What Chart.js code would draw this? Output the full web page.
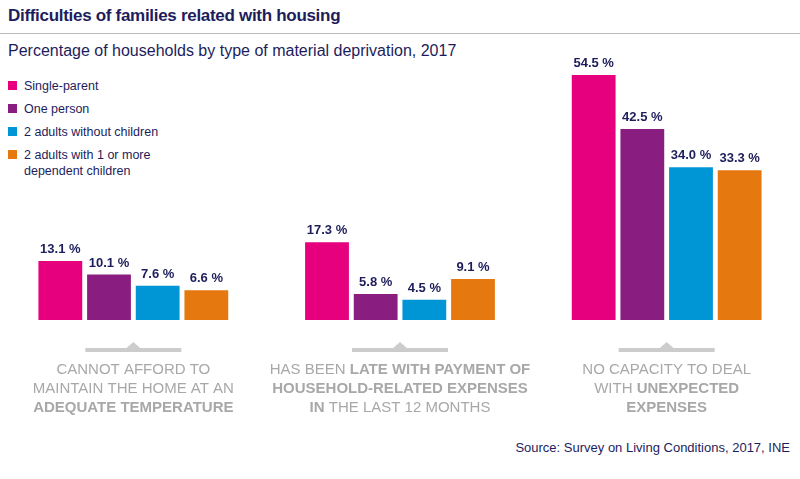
<!DOCTYPE html>
<html>
<head>
<meta charset="utf-8">
<script src="https://cdn.jsdelivr.net/npm/chart.js@4"></script>
<style>
  body { margin: 0; width: 800px; height: 479px; background: #fff; font-family: "Helvetica Neue", "Liberation Sans", Arial, sans-serif; position: relative; overflow: hidden; }
  #titulo { position: absolute; left: 8px; top: 6px; font-size: 17px; font-weight: bold; color: #1d1d5c; letter-spacing: -0.3px; }
  #linea { position: absolute; left: 0; top: 33px; width: 800px; border-top: 1px solid #bbb; }
  #subtitulo { position: absolute; left: 8px; top: 42px; font-size: 16px; color: #1d1d5c; }
  #leyenda { position: absolute; left: 8px; top: 78px; font-size: 12.5px; color: #1d1d5c; }
  .item { display: flex; align-items: flex-start; margin-bottom: 7px; line-height: 16px; }
  .cuadro { width: 9px; height: 9px; margin: 3px 7px 0 0; flex: none; }
  #fuente { position: absolute; right: 10px; top: 440px; font-size: 13px; color: #1d1d5c; }
  canvas { position: absolute; left: 0; top: 0; }
</style>
</head>
<body>
<div id="titulo">Difficulties of families related with housing</div>
<div id="linea"></div>
<div id="subtitulo">Percentage of households by type of material deprivation, 2017</div>
<div id="leyenda"></div>
<div id="fuente">Source: Survey on Living Conditions, 2017, INE</div>
<canvas id="grafico" width="800" height="479"></canvas>
<script>
const categorias = ["temperatura", "pagos", "imprevistos"];
const series = ["Single-parent", "One person", "2 adults without children", "2 adults with 1 or more<br>dependent children"];
const colores = ["#e6007e", "#8a1e80", "#0096d6", "#e5780f"];
const valores = [
  [13.1, 17.3, 54.5],
  [10.1, 5.8, 42.5],
  [7.6, 4.5, 34.0],
  [6.6, 9.1, 33.3]
];
// cada etiqueta: lineas, y cada linea es una lista de [texto, negrita]
const etiquetas = [
  [[["CANNOT AFFORD TO", false]], [["MAINTAIN THE HOME AT AN", false]], [["ADEQUATE TEMPERATURE", true]]],
  [[["HAS BEEN ", false], ["LATE WITH PAYMENT OF", true]], [["HOUSEHOLD-RELATED EXPENSES", true]], [["IN", true], [" THE LAST 12 MONTHS", false]]],
  [[["NO CAPACITY TO DEAL", false]], [["WITH ", false], ["UNEXPECTED", true]], [["EXPENSES", true]]]
];

const $leyenda = document.getElementById("leyenda");
series.forEach((s, i) => {
  $leyenda.innerHTML += `<div class="item"><span class="cuadro" style="background:${colores[i]}"></span><span>${s}</span></div>`;
});

const etiquetasPlugin = {
  id: "etiquetas",
  afterDatasetsDraw(chart) {
    const ctx = chart.ctx;
    ctx.save();
    // valores encima de las barras
    ctx.fillStyle = "#1d1d5c";
    ctx.font = "bold 13px 'Liberation Sans', Arial";
    ctx.textAlign = "center";
    ctx.textBaseline = "bottom";
    chart.data.datasets.forEach((ds, i) => {
      chart.getDatasetMeta(i).data.forEach((bar, j) => {
        ctx.fillText(ds.data[j].toFixed(1) + " %", bar.x, bar.y - 5);
      });
    });
    // textos de categoria
    const xScale = chart.scales.x;
    categorias.forEach((c, j) => {
      const cx = xScale.getPixelForValue(j);
      ctx.strokeStyle = "#ccc";
      ctx.lineWidth = 4;
      ctx.beginPath();
      ctx.moveTo(cx - 48, 350);
      ctx.lineTo(cx + 48, 350);
      ctx.stroke();
      ctx.fillStyle = "#ccc";
      ctx.beginPath();
      ctx.moveTo(cx - 8, 349);
      ctx.lineTo(cx, 342);
      ctx.lineTo(cx + 8, 349);
      ctx.fill();
      ctx.fillStyle = "#a8a8a8";
      ctx.textBaseline = "alphabetic";
      etiquetas[j].forEach((linea, k) => {
        let ancho = 0;
        linea.forEach(([t, b]) => {
          ctx.font = (b ? "bold " : "") + "15px 'Liberation Sans', Arial";
          ancho += ctx.measureText(t).width;
        });
        let x = cx - ancho / 2;
        ctx.textAlign = "left";
        linea.forEach(([t, b]) => {
          ctx.font = (b ? "bold " : "") + "15px 'Liberation Sans', Arial";
          ctx.fillText(t, x, 374 + k * 19);
          x += ctx.measureText(t).width;
        });
      });
    });
    ctx.restore();
  }
};

new Chart(document.getElementById("grafico"), {
  type: "bar",
  data: {
    labels: categorias,
    datasets: valores.map((v, i) => ({
      label: series[i],
      data: v,
      backgroundColor: colores[i],
      barPercentage: 0.9,
      categoryPercentage: 0.73
    }))
  },
  options: {
    responsive: false,
    animation: false,
    layout: { padding: { left: 0, right: 0, top: 75, bottom: 159 } },
    scales: {
      x: { display: false },
      y: { display: false, min: 0, max: 54.5 }
    },
    plugins: { legend: { display: false }, tooltip: { enabled: false } }
  },
  plugins: [etiquetasPlugin]
});
</script>
</body>
</html>
